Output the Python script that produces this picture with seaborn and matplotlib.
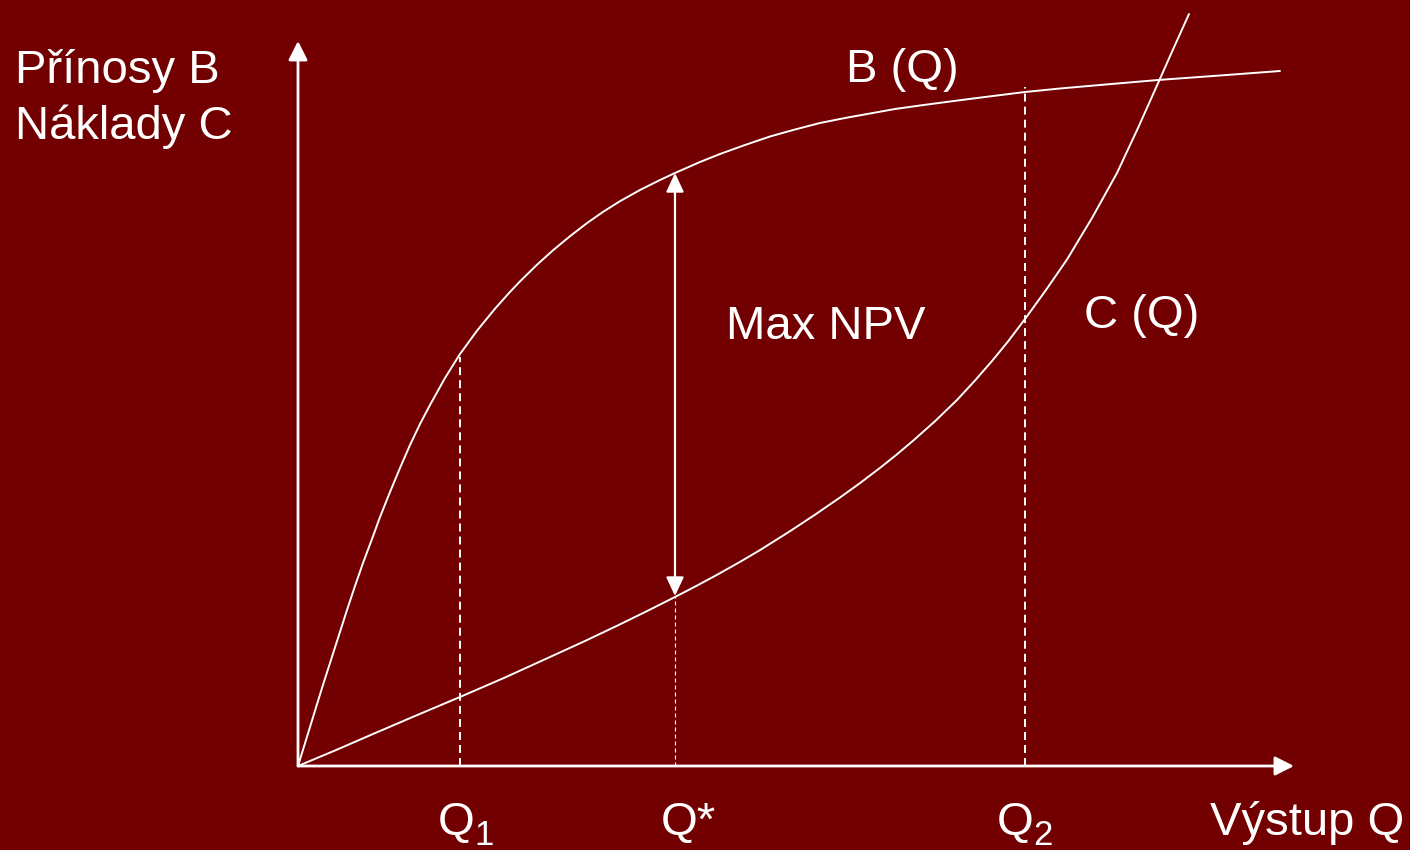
import matplotlib
matplotlib.use("Agg")
import matplotlib.pyplot as plt
import seaborn as sns
import pandas as pd
from matplotlib.patches import FancyArrowPatch

# ---- data (Q and value in picture units, origin at axes corner)
b_q = [0, 8, 16, 24, 32, 41, 49, 57, 65, 74, 82, 92, 102, 112, 122, 132, 147, 162,
       179, 197, 212, 222, 239, 255, 272, 289, 305, 322, 342, 362, 377, 402, 422,
       447, 472, 497, 522, 547, 572, 597, 622, 652, 687, 727, 762, 802, 860, 922, 982]
b_val = [0, 26, 52, 78, 103, 131, 156, 180, 203, 227, 249, 274, 298, 321, 342, 361,
         388, 412, 435.3, 457.3, 474.1, 484.6, 501.3, 515.7, 529.8, 542.9, 554.1,
         564.8, 576, 586, 593, 604, 612, 621, 629.5, 636.5, 643, 648, 652.5, 657,
         660.5, 664.5, 669, 674, 677.5, 681, 686, 690.5, 695]
c_q = [0, 37, 75, 117, 162, 207, 252, 287, 319, 349, 377, 399, 419, 442, 462, 492,
       517, 542, 562, 582, 598, 615, 637, 659, 677, 694, 710, 727, 748, 769, 794,
       819, 840, 861, 875, 891]
c_val = [0, 15.5, 32, 50, 69, 88.5, 109, 125, 140.2, 154.9, 169, 180.4, 191.2, 204.1,
         215.9, 234.8, 251.3, 268.5, 282.9, 298.1, 310.9, 325.2, 344.8, 366, 385.5,
         405, 424.5, 447, 476, 506.5, 548, 593, 638, 685, 716.5, 752]
q1, q_star, q2 = 162, 377, 727
b_at_q1 = 409
c_at_qstar = 170
b_at_qstar = 593
b_at_q2 = 679

bg = "#720000"
fg = "white"

sns.set_theme(style="white")
plt.rcParams["font.family"] = ["Liberation Sans", "DejaVu Sans"]

fig = plt.figure(figsize=(14.1, 8.5), dpi=100, facecolor=bg)
ax = fig.add_axes([0, 0, 1, 1])
ax.set_facecolor(bg)
ax.set_xlim(-298, 1112)
ax.set_ylim(-84, 766)
ax.axis("off")

dfb = pd.DataFrame({"Q": b_q, "V": b_val})
dfc = pd.DataFrame({"Q": c_q, "V": c_val})
sns.lineplot(data=dfb, x="Q", y="V", ax=ax, color=fg, lw=1.4, sort=False, estimator=None)
sns.lineplot(data=dfc, x="Q", y="V", ax=ax, color=fg, lw=1.4, sort=False, estimator=None)

# dashed guide lines
ax.plot([q1, q1], [0, b_at_q1], color=fg, lw=1.4, dashes=(4.1, 2.6))
ax.plot([q2, q2], [0, b_at_q2], color=fg, lw=1.4, dashes=(4.1, 2.6))
ax.plot([q_star, q_star], [0, c_at_qstar], color=fg, lw=0.8, dashes=(3.6, 2.7))

# axes arrows
for a, b in [((0, 0), (0, 725)), ((0, 0), (996, 0))]:
    ax.add_patch(FancyArrowPatch(a, b, arrowstyle="-|>,head_length=11.5,head_width=5.8",
                                 mutation_scale=1, color=fg, lw=2.0, shrinkA=0, shrinkB=0))

# Max NPV double arrow
ax.add_patch(FancyArrowPatch((q_star, c_at_qstar), (q_star, b_at_qstar),
                             arrowstyle="<|-|>,head_length=11.5,head_width=5.4",
                             mutation_scale=1, color=fg, lw=1.6, shrinkA=0, shrinkB=0))

fs = 34
def txt(px, py, s, size=fs):
    ax.text(px - 298, 766 - py, s, color=fg, fontsize=size, ha="left", va="baseline")

txt(15, 83, "Přínosy B")
txt(15, 139, "Náklady C")
txt(846, 82, "B (Q)")
txt(726, 339, "Max NPV")
txt(1084, 328, "C (Q)")
txt(438, 835, "Q")
txt(474, 845, "1", size=25)
txt(661, 835, "Q*")
txt(997, 835, "Q")
txt(1033, 845, "2", size=25)
txt(1210, 835, "Výstup Q")

fig.savefig("out.png", dpi=100, facecolor=bg)
